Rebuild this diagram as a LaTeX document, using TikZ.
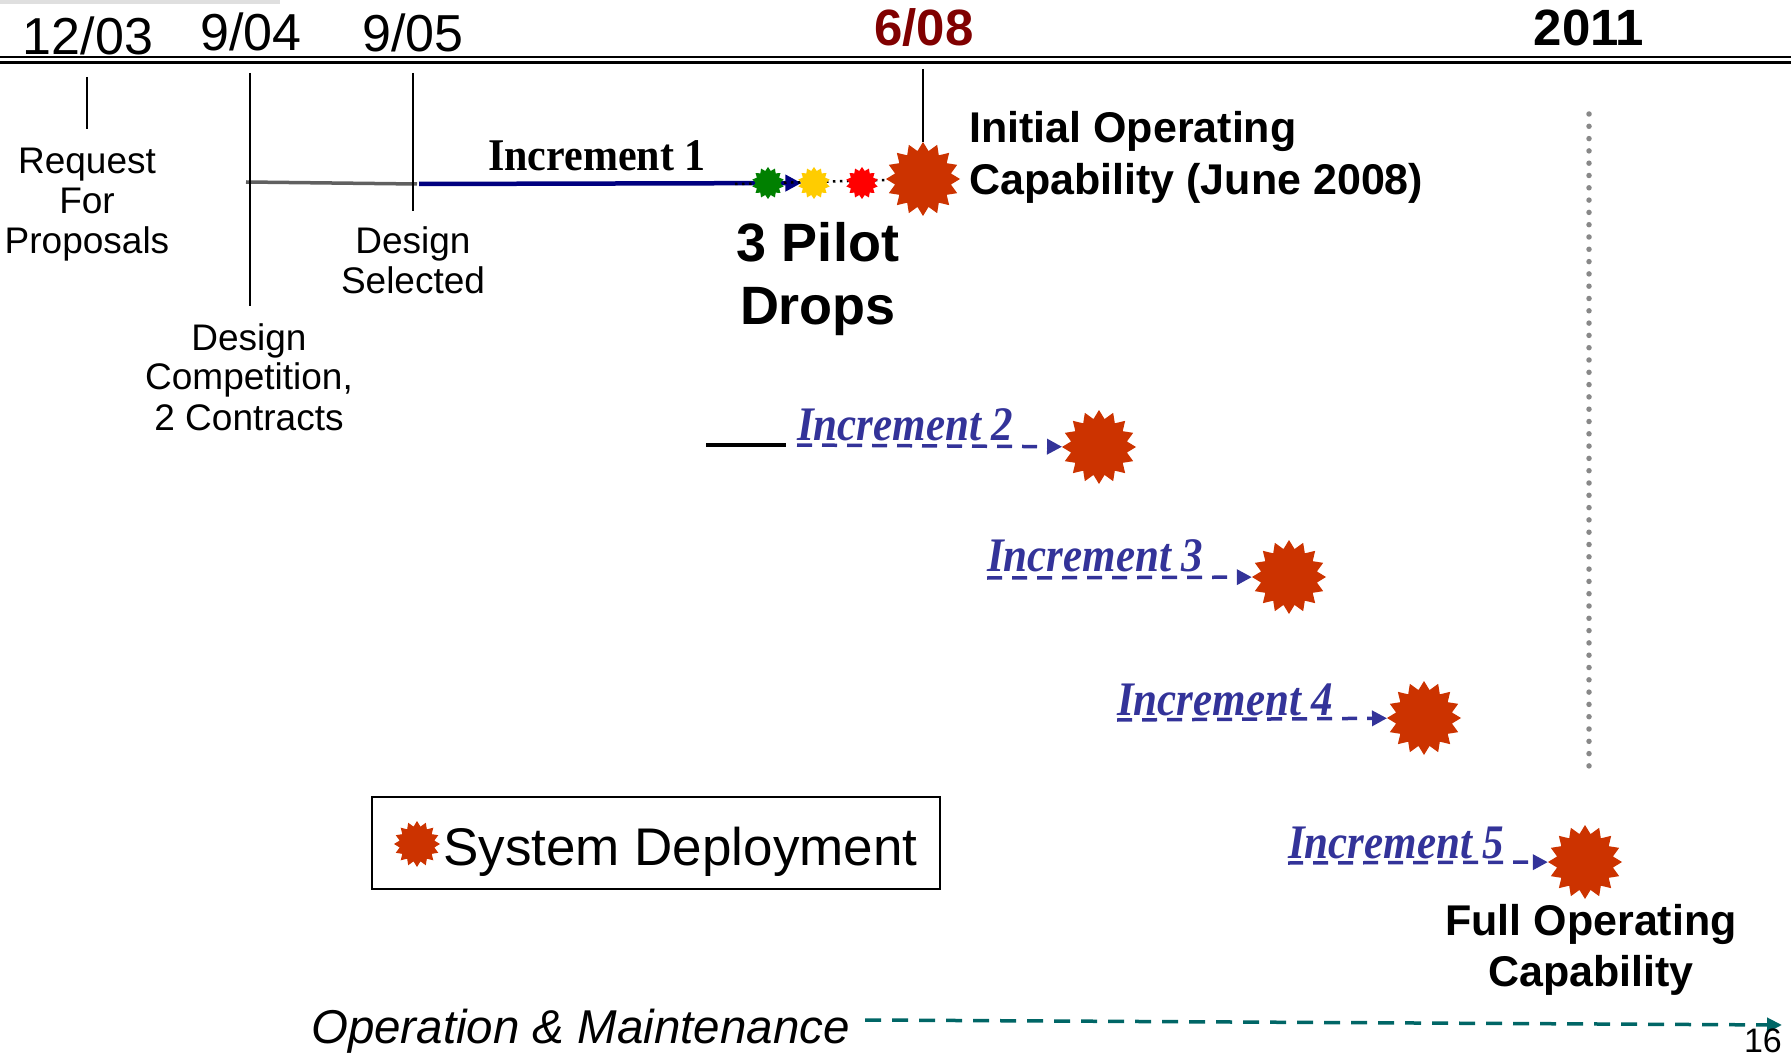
\documentclass[tikz,border=0pt]{standalone}
\usepackage{fontspec}
\usepackage{graphicx}
\setmainfont{Liberation Sans}
\newfontfamily\timesf{Liberation Serif}
\usetikzlibrary{shapes.geometric,arrows.meta,backgrounds}
\definecolor{ddred}{HTML}{800000}
\definecolor{starred}{HTML}{CC3300}
\definecolor{incblue}{HTML}{333399}
\definecolor{navyc}{HTML}{000080}
\definecolor{tealc}{HTML}{006666}
\definecolor{ygold}{HTML}{FFCC00}
\definecolor{pgreen}{HTML}{008000}
\definecolor{dotgray}{HTML}{888888}
\begin{document}
\begin{tikzpicture}[x=1pt,y=-1pt,
  burst/.style={star, star points=16, star point ratio=1.3, fill=starred, draw=none, inner sep=0pt, minimum size=74pt},
  smallburst/.style={star, star points=14, star point ratio=1.3, draw=none, inner sep=0pt, minimum size=32pt},
  datelbl/.style={font=\fontsize{52}{60}\selectfont, anchor=base, inner sep=0pt},
  bolddate/.style={font=\fontsize{51}{60}\selectfont\bfseries, anchor=base, inner sep=0pt},
  milestone/.style={font=\fontsize{37}{40}\selectfont, align=center, anchor=base, inner sep=0pt},
  tickline/.style={line width=1.5pt, black},
  inclbl/.style={font=\fontsize{43}{48}\selectfont\timesf\bfseries\itshape, text=incblue, anchor=base west, inner sep=0pt},
  incarrow/.style={incblue, line width=3.5pt, dash pattern=on 15pt off 10pt, -{Triangle[length=15pt,width=15pt]}},
  boldlbl/.style={font=\fontsize{43}{52}\selectfont\bfseries, inner sep=0pt},
]
\useasboundingbox (0,0) rectangle (1791,1056);
\fill[gray!25] (0,0) rectangle (280,4);

% top double rule
\coordinate (rl1) at (0,57.5); \coordinate (rr1) at (1791,57.5);
\coordinate (rl2) at (0,62.5); \coordinate (rr2) at (1791,62.5);
\draw[line width=2pt] (rl1) -- (rr1);
\draw[line width=3.5pt] (rl2) -- (rr2);

% dates
\node[datelbl] (d1) at (88,55) {12/03};
\node[datelbl] (d2) at (251,51) {9/04};
\node[datelbl] (d3) at (413,52) {9/05};
\node[bolddate, text=ddred] (d4) at (924,46) {6/08};
\node[bolddate] (d5) at (1589,46) {2011};

% milestone labels
\node[milestone] (rfp) at (87,254) {Request\\For\\Proposals};
\node[milestone] (dsel) at (413,294) {Design\\Selected};
\node[milestone] (dcomp) at (249,430) {Design\\Competition,\\2 Contracts};

% ticks
\coordinate (t1a) at (87,77); \coordinate (t1b) at (87,129);
\coordinate (t2a) at (250,73); \coordinate (t2b) at (250,306);
\coordinate (t3a) at (413,73); \coordinate (t3b) at (413,211);
\coordinate (t4a) at (923,69);
\draw[tickline] (t1a) -- (t1b);
\draw[tickline] (t2a) -- (t2b);
\draw[tickline] (t3a) -- (t3b);

% Increment 1
\node[burst] (ioc) at (923,179) {};
\node[smallburst, fill=pgreen] (sg) at (768,183) {};
\node[smallburst, fill=ygold] (sy) at (814,183) {};
\node[smallburst, fill=red] (sr) at (862,183) {};
\node[font=\fontsize{42}{48}\selectfont\timesf\bfseries, anchor=base west, inner sep=0pt] (inc1) at (488,171) {\scalebox{1}[1.08]{Increment 1}};
\coordinate (g1) at (246,182);
\coordinate (g2) at (417,184);
\coordinate (n1) at (419,184);
\coordinate (dots1) at (735,184);
\begin{scope}[on background layer]
\draw[gray!75!black, line width=3.5pt] (g1) -- (g2);
\draw[navyc, line width=4.5pt, -{Triangle[length=16pt,width=16pt]}] (n1) -- (sy);
\draw[black, line width=2.5pt, dash pattern=on 2.5pt off 4.5pt] (dots1) -- (ioc);
\end{scope}
\draw[tickline] (t4a) -- (ioc.north);

\node[boldlbl, align=left, anchor=base west] (ioclbl) at (969,195) {Initial Operating\\Capability (June 2008)};
\node[font=\fontsize{54}{63}\selectfont\bfseries, align=center, anchor=base, inner sep=0pt] (pilot) at (818,325) {3 Pilot\\Drops};

% Increment 2
\coordinate (b2a) at (706,445); \coordinate (b2b) at (786,445);
\draw[black, line width=4pt] (b2a) -- (b2b);
\node[inclbl] (inc2) at (797,440) {\scalebox{1}[1.12]{Increment 2}};
\coordinate (a2) at (797,445);
\node[burst] (s2) at (1099,447) {};
\draw[incarrow] (a2) -- (s2);

% Increment 3
\node[inclbl] (inc3) at (987,571) {\scalebox{1}[1.12]{Increment 3}};
\coordinate (a3) at (987,578);
\node[burst] (s3) at (1289,577) {};
\draw[incarrow] (a3) -- (s3);

% Increment 4
\node[inclbl] (inc4) at (1117,715) {\scalebox{1}[1.12]{Increment 4}};
\coordinate (a4) at (1117,720);
\node[burst] (s4) at (1424,718) {};
\draw[incarrow] (a4) -- (s4);

% Increment 5
\node[inclbl] (inc5) at (1288,858) {\scalebox{1}[1.12]{Increment 5}};
\coordinate (a5) at (1288,863);
\node[burst] (s5) at (1585,862) {};
\draw[incarrow] (a5) -- (s5);

% 2011 dotted line
\coordinate (v1) at (1589,114); \coordinate (v2) at (1589,777);
\draw[dotgray, line width=5.5pt, line cap=round, dash pattern=on 0pt off 12.3pt] (v1) -- (v2);

\node[font=\fontsize{43}{51}\selectfont\bfseries, inner sep=0pt, align=center, anchor=base] (foc) at (1591,986) {Full Operating\\Capability};

% legend
\node[draw, line width=2pt, minimum width=568pt, minimum height=92pt, inner sep=0pt] (legend) at (656,843) {};
\node[burst, minimum size=46pt] (ls) at (417,844) {};
\node[font=\fontsize{53}{60}\selectfont, anchor=base west, inner sep=0pt] (ltext) at (443,865) {System Deployment};

% O&M
\node[font=\fontsize{47.5}{55}\selectfont\itshape, anchor=base west, inner sep=0pt] (om) at (311,1043) {Operation \& Maintenance};
\coordinate (oms) at (865,1020); \coordinate (ome) at (1782,1025);
\draw[tealc, line width=3.5pt, dash pattern=on 16pt off 11pt, -{Triangle[length=15pt,width=14pt]}] (oms) -- (ome);

\node[font=\fontsize{34}{40}\selectfont, anchor=base east, inner sep=0pt] (pg) at (1782,1052) {16};
\end{tikzpicture}
\end{document}
